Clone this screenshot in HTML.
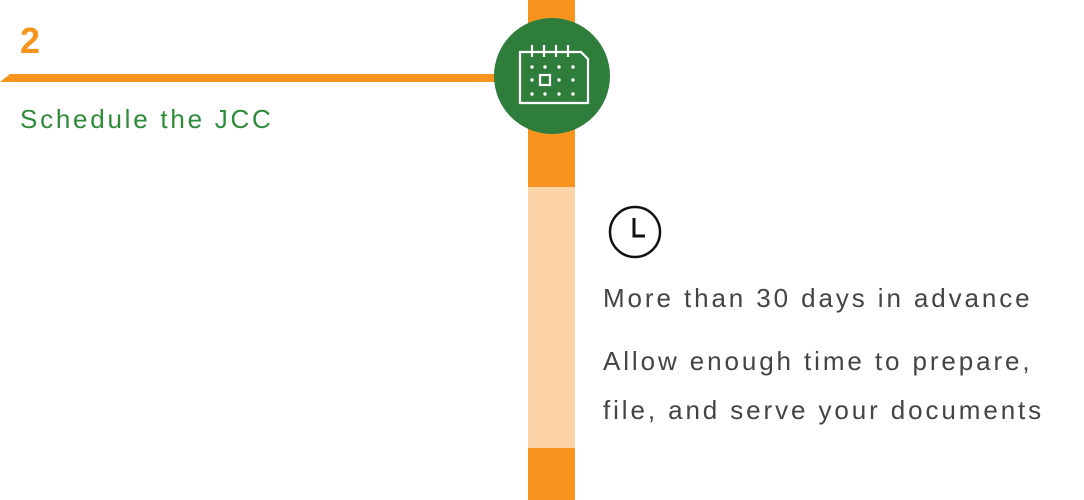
<!DOCTYPE html>
<html><head><meta charset="utf-8"><style>
html,body{margin:0;padding:0;background:#fff;width:1084px;height:500px;overflow:hidden;position:relative;font-family:"Liberation Sans",sans-serif}
.a{position:absolute}
</style></head><body>
<div class="a" style="left:528px;top:0;width:47px;height:187px;background:#f7941d"></div>
<div class="a" style="left:528px;top:187px;width:47px;height:261px;background:#fcd4a7"></div>
<div class="a" style="left:528px;top:448px;width:47px;height:52px;background:#f7941d"></div>
<svg class="a" style="left:0;top:0" width="1084" height="500">
<polygon points="0,82 10,74 500,74 500,82" fill="#f7941d"/>
<circle cx="552" cy="76" r="58" fill="#2e7d3a"/>
<g fill="none" stroke="#fff" stroke-width="2.2">
<path d="M520,52 L581,52 L588,59 L588,103 L520,103 Z"/>
<path d="M532,45 V57 M544,45 V57 M556,45 V57 M568,45 V57"/>
<rect x="540" y="75" width="10" height="10"/>
</g>
<g fill="#fff">
<circle cx="532" cy="67" r="1.7"/><circle cx="545" cy="67" r="1.7"/><circle cx="559" cy="67" r="1.7"/><circle cx="573" cy="67" r="1.7"/>
<circle cx="532" cy="80" r="1.7"/><circle cx="559" cy="80" r="1.7"/><circle cx="573" cy="80" r="1.7"/>
<circle cx="532" cy="94" r="1.7"/><circle cx="545" cy="94" r="1.7"/><circle cx="559" cy="94" r="1.7"/><circle cx="573" cy="94" r="1.7"/>
</g>
<circle cx="635" cy="232" r="25" fill="none" stroke="#111" stroke-width="2.5"/>
<path d="M634,218 V236 H645" fill="none" stroke="#111" stroke-width="3"/>
</svg>
<div class="a" style="left:20px;top:20px;font-size:36px;font-weight:bold;color:#f7941d;line-height:42px">2</div>
<div class="a" style="left:20px;top:103px;font-size:26px;color:#2e8b3a;letter-spacing:2.75px;line-height:32px;white-space:nowrap">Schedule the JCC</div>
<div class="a" style="left:603px;top:282px;font-size:26px;color:#444;letter-spacing:2.9px;line-height:32px;white-space:nowrap">More than 30 days in advance</div>
<div class="a" style="left:603px;top:337px;font-size:26px;color:#444;letter-spacing:2.9px;line-height:49px;white-space:nowrap">Allow enough time to prepare,<br>file, and serve your documents</div>
</body></html>
